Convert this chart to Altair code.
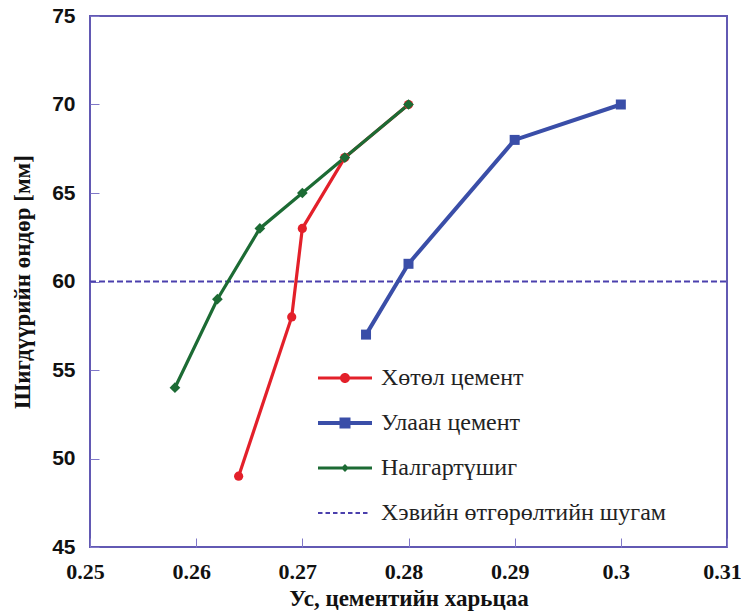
import altair as alt
import pandas as pd

# ---- data ----
series_names = ["Хөтөл цемент", "Улаан цемент", "Налгартүшиг", "Хэвийн өтгөрөлтийн шугам"]
red_x = [0.264, 0.269, 0.270, 0.274, 0.280]
red_y = [49, 58, 63, 67, 70]
blue_x = [0.276, 0.280, 0.290, 0.300]
blue_y = [57, 61, 68, 70]
green_x = [0.258, 0.262, 0.266, 0.270, 0.274, 0.280]
green_y = [54, 59, 63, 65, 67, 70]
ref_x = [0.25, 0.31]
ref_y = [60, 60]
x_ticks = [0.25, 0.26, 0.27, 0.28, 0.29, 0.30, 0.31]
y_ticks = [45, 50, 55, 60, 65, 70, 75]

colors = ["#e3202a", "#3a4ea8", "#1c6b34", "#4b40ad"]
frame_color = "#6259b3"
SERIF = "Liberation Serif"
SANS = "Liberation Sans"

rows = []
for name, xs_, ys_ in zip(series_names, [red_x, blue_x, green_x, ref_x], [red_y, blue_y, green_y, ref_y]):
    for i, (xv, yv) in enumerate(zip(xs_, ys_)):
        rows.append({"series": name, "x": xv, "y": yv, "order": i})
df = pd.DataFrame(rows)

# ---- legend symbol paths (unit coords, half width = 27px) ----
H = 27.0
def line_rect(th):
    t = th / 2 / H
    return f"M-1,{-t:.4f}H1V{t:.4f}H-1Z"
def circ(r):
    r = r / H
    return f"M{-r:.4f},0A{r:.4f},{r:.4f} 0 1,1 {r:.4f},0A{r:.4f},{r:.4f} 0 1,1 {-r:.4f},0Z"
def sq(s):
    s = s / H
    return f"M{-s:.4f},{-s:.4f}H{s:.4f}V{s:.4f}H{-s:.4f}Z"
def dia(s):
    s = s / H
    return f"M0,{-s:.4f}L{s:.4f},0L0,{s:.4f}L{-s:.4f},0Z"
def dashes(th, dash, gap, length=50):
    t = th / 2 / H
    out = []
    x = -1.0
    end = -1.0 + length / H
    while x < end:
        x2 = min(x + dash / H, end)
        out.append(f"M{x:.4f},{-t:.4f}H{x2:.4f}V{t:.4f}H{x:.4f}Z")
        x = x2 + gap / H
    return "".join(out)

legend_shapes = [
    line_rect(3) + circ(5),
    line_rect(3.8) + sq(5.5),
    line_rect(3.2) + dia(4),
    dashes(1.8, 4.5, 3),
]

xs = alt.Scale(domain=[0.25, 0.31], nice=False, zero=False)
ys = alt.Scale(domain=[45, 75], nice=False, zero=False)

x_enc = alt.X("x:Q", scale=xs, axis=alt.Axis(
    values=x_ticks, format="~g", title="Ус, цементийн харьцаа",
    domain=False, grid=False, offset=-9, tickSize=9, tickColor="#8078c8", tickWidth=1,
    labelFont=SERIF, labelFontWeight="bold", labelFontSize=22, labelColor="#111",
    labelPadding=14, labelFlush=False, labelOffset=-5,
    titleFont=SERIF, titleFontWeight="bold", titleFontSize=23, titleColor="#111",
    titlePadding=5))
y_enc = alt.Y("y:Q", scale=ys, axis=alt.Axis(
    values=y_ticks, title="Шигдүүрийн өндөр [мм]",
    domain=False, grid=False, offset=-9, tickSize=9, tickColor="#8078c8", tickWidth=1,
    labelFont=SANS, labelFontWeight="bold", labelFontSize=21, labelColor="#111",
    labelPadding=15, labelFlush=False,
    titleFont=SERIF, titleFontWeight="bold", titleFontSize=23, titleColor="#111",
    titlePadding=17))

main_df = df[df["series"] != series_names[3]]
ref_df = df[df["series"] == series_names[3]]

lines = alt.Chart(main_df).mark_line().encode(
    x=x_enc, y=y_enc, order="order:Q",
    color=alt.Color("series:N", scale=alt.Scale(domain=series_names[:3], range=colors[:3]), legend=None),
    strokeWidth=alt.condition(alt.datum.series == series_names[1], alt.value(4), alt.value(3.2)),
)

ref_line = alt.Chart(ref_df).mark_line(strokeWidth=1.8, strokeDash=[6, 3], color=colors[3]).encode(
    x=x_enc, y=y_enc, order="order:Q",
)

points = alt.Chart(main_df).mark_point(filled=True, opacity=1).encode(
    x=x_enc, y=y_enc,
    color=alt.Color("series:N", scale=alt.Scale(domain=series_names[:3], range=colors[:3]), legend=None),
    shape=alt.Shape("series:N", scale=alt.Scale(domain=series_names[:3], range=["circle", "square", "diamond"]), legend=None),
    size=alt.Size("series:N", scale=alt.Scale(domain=series_names[:3], range=[85, 115, 50]), legend=None),
)

leg = alt.Legend(title=None, orient="none", legendX=228, legendY=335,
                 labelFont=SERIF, labelFontSize=24, labelColor="#222", labelLimit=500,
                 symbolSize=2916, symbolStrokeWidth=0, symbolOpacity=1,
                 rowPadding=6, labelOffset=9, padding=0)

legend_layer = alt.Chart(df).mark_point(filled=True, opacity=0).encode(
    x=x_enc, y=y_enc,
    color=alt.Color("series:N", scale=alt.Scale(domain=series_names, range=colors), legend=leg),
    shape=alt.Shape("series:N", scale=alt.Scale(domain=series_names, range=legend_shapes), legend=leg),
)

chart = alt.layer(ref_line, lines, points, legend_layer).resolve_scale(
    color="independent", shape="independent", size="independent",
).resolve_legend(color="independent", shape="independent").properties(
    width=637, height=531,
    autosize=alt.AutoSizeParams(type="none"),
    padding={"left": 90, "top": 16, "right": 14, "bottom": 67},
    background="white",
).configure(font=SERIF).configure_view(stroke=frame_color, strokeWidth=2).configure_legend(
    labelFont=SERIF, labelLimit=500
).configure_axisX(labelFont=SERIF).configure_axisY(labelFont=SANS)

chart.save("out.html", embed_options={"renderer": "svg", "actions": False})
